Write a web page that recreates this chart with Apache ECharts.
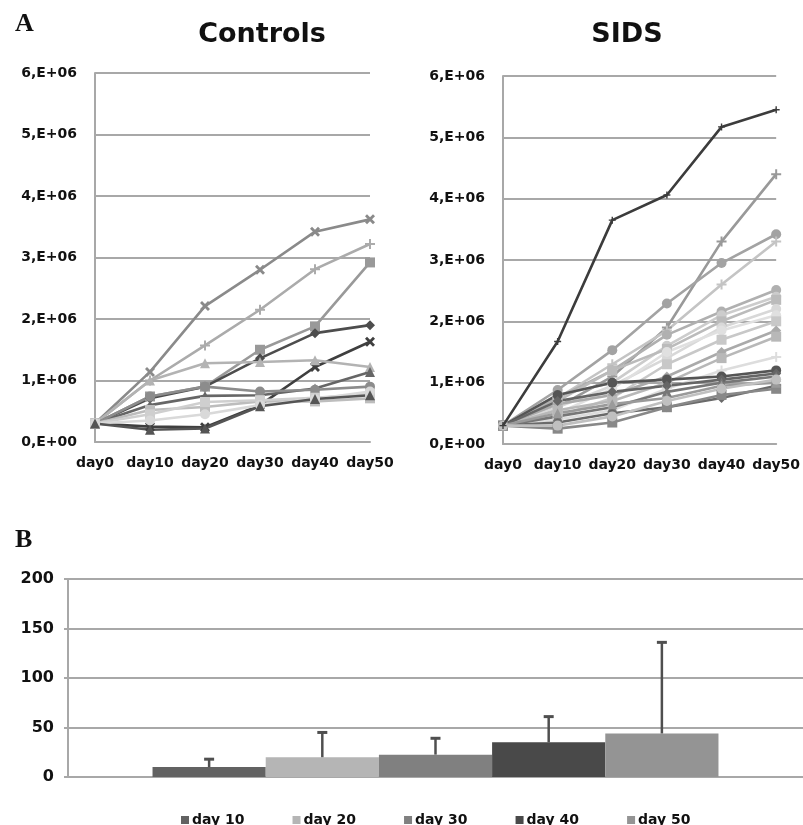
<!DOCTYPE html>
<html>
<head>
<meta charset="UTF-8">
<script src="https://cdn.jsdelivr.net/npm/echarts@6/dist/echarts.min.js"></script>
<style>
    body{margin:0;background:#fff;}
</style>
</head>
<body>
<div id="main" style="width:803px;height:825px;"></div>
<script type="text/javascript">
    // values in millions (x E+06)
    var days = ['day0', 'day10', 'day20', 'day30', 'day40', 'day50'];
    var yTicks = [0, 1, 2, 3, 4, 5, 6];

    var controls = [
        [0.3, 1.14, 2.21, 2.8, 3.42, 3.62],
        [0.3, 1.0, 1.57, 2.15, 2.81, 3.22],
        [0.3, 0.74, 0.9, 1.5, 1.88, 2.92],
        [0.3, 0.71, 0.9, 1.36, 1.77, 1.9],
        [0.3, 0.25, 0.24, 0.6, 1.22, 1.63],
        [0.3, 1.0, 1.28, 1.3, 1.33, 1.22],
        [0.3, 0.6, 0.75, 0.76, 0.87, 1.14],
        [0.3, 0.74, 0.9, 0.82, 0.85, 0.9],
        [0.3, 0.52, 0.57, 0.66, 0.66, 0.71],
        [0.3, 0.45, 0.65, 0.68, 0.72, 0.78],
        [0.3, 0.35, 0.45, 0.6, 0.7, 0.82],
        [0.3, 0.2, 0.22, 0.58, 0.7, 0.76]
    ];
    var controlColors = ['#8a8a8a', '#ababab', '#999999', '#4d4d4d', '#3f3f3f', '#b3b3b3',
        '#666666', '#8c8c8c', '#bdbdbd', '#cfcfcf', '#d9d9d9', '#555555'];
    var controlSymbols = ['x', 'plus', 'rect', 'diamond', 'x', 'triangle',
        'triangle', 'circle', 'rect', 'rect', 'circle', 'triangle'];

    var sids = [
        [0.3, 1.67, 3.65, 4.06, 5.17, 5.45],
        [0.3, 0.6, 1.1, 1.9, 3.3, 4.4],
        [0.3, 0.88, 1.53, 2.29, 2.95, 3.42],
        [0.3, 0.75, 1.3, 1.85, 2.6, 3.3],
        [0.3, 0.75, 1.2, 1.78, 2.16, 2.51],
        [0.3, 0.8, 1.0, 1.6, 2.1, 2.4],
        [0.3, 0.7, 1.2, 1.55, 2.0, 2.35],
        [0.3, 0.6, 0.95, 1.4, 1.9, 2.2],
        [0.3, 0.5, 0.9, 1.5, 1.85, 2.1],
        [0.3, 0.45, 0.75, 1.3, 1.7, 2.0],
        [0.3, 0.65, 0.8, 1.1, 1.5, 1.85],
        [0.3, 0.55, 0.7, 1.0, 1.4, 1.75],
        [0.3, 0.4, 0.55, 0.9, 1.2, 1.42],
        [0.3, 0.8, 1.0, 1.05, 1.1, 1.2],
        [0.3, 0.7, 0.85, 0.95, 1.05, 1.15],
        [0.3, 0.45, 0.6, 0.85, 1.0, 1.1],
        [0.3, 0.35, 0.5, 0.6, 0.75, 0.95],
        [0.3, 0.25, 0.35, 0.6, 0.8, 0.9],
        [0.3, 0.5, 0.65, 0.75, 0.95, 1.0],
        [0.3, 0.3, 0.45, 0.7, 0.9, 1.05]
    ];
    var sidsColors = ['#3c3c3c', '#999999', '#a3a3a3', '#c4c4c4', '#b0b0b0', '#cccccc',
        '#bbbbbb', '#d8d8d8', '#e0e0e0', '#c8c8c8', '#aaaaaa', '#b8b8b8', '#dddddd',
        '#555555', '#666666', '#777777', '#6a6a6a', '#888888', '#9a9a9a', '#c0c0c0'];
    var sidsSymbols = ['plus', 'plus', 'circle', 'plus', 'circle', 'circle', 'rect',
        'circle', 'circle', 'rect', 'diamond', 'rect', 'plus', 'circle', 'diamond',
        'triangle', 'diamond', 'rect', 'triangle', 'circle'];

    // panel B
    var barDays = ['day 10', 'day 20', 'day 30', 'day 40', 'day 50'];
    var barMean = [10, 20, 22.6, 35, 44];
    var barSd = [8, 25, 16.5, 26, 92];
    var barTicks = [0, 50, 100, 150, 200];
    var barColors = ['#626262', '#b5b5b5', '#808080', '#494949', '#949494'];

    var symPaths = {
        x: 'path://M2,0L5,3L8,0L10,2L7,5L10,8L8,10L5,7L2,10L0,8L3,5L0,2Z',
        plus: 'path://M4,0H6V4H10V6H6V10H4V6H0V4H4Z'
    };
    function sym(s) {
        return symPaths[s] || s;
    }

    var lblFont = 'DejaVu Sans';
    var gridColor = '#a8a8a8';

    function yFmt(v) {
        return v + ',E+0' + (v === 0 ? '0' : '6');
    }

    var chart = echarts.init(document.getElementById('main'));

    var series = [];
    controls.forEach(function (d, i) {
        series.push({
            type: 'line', xAxisIndex: 0, yAxisIndex: 0, data: d,
            symbol: sym(controlSymbols[i]), symbolSize: 10,
            lineStyle: {color: controlColors[i], width: 2.6},
            itemStyle: {color: controlColors[i]},
            animation: false
        });
    });
    sids.forEach(function (d, i) {
        series.push({
            type: 'line', xAxisIndex: 1, yAxisIndex: 1, data: d,
            symbol: sym(sidsSymbols[i]), symbolSize: i === 0 ? 7 : 10,
            lineStyle: {color: sidsColors[i], width: 2.6},
            itemStyle: {color: sidsColors[i]},
            z: i === 0 ? 5 : 2,
            animation: false
        });
    });
    barDays.forEach(function (name, i) {
        series.push({
            type: 'bar', name: name, xAxisIndex: 2, yAxisIndex: 2,
            data: [barMean[i]], barGap: 0, barCategoryGap: '23%',
            itemStyle: {color: barColors[i]},
            animation: false
        });
    });
    // error bars (upper only)
    series.push({
        type: 'custom', xAxisIndex: 2, yAxisIndex: 2, z: 10, animation: false,
        data: barMean.map(function (m, i) { return [0, m + barSd[i], m, i]; }),
        encode: {x: 0, y: 1},
        renderItem: function (params, api) {
            var k = api.value(3);
            var top = api.coord([0, api.value(1)]);
            var bot = api.coord([0, api.value(2)]);
            var band = api.size([1, 0])[0];
            var bw = band * (1 - 0.23) / barDays.length;
            var x = top[0] + (k - (barDays.length - 1) / 2) * bw;
            var st = {stroke: '#4f4f4f', lineWidth: 2.5};
            return {
                type: 'group',
                children: [
                    {type: 'line', shape: {x1: x, y1: bot[1], x2: x, y2: top[1]}, style: st},
                    {type: 'line', shape: {x1: x - 5, y1: top[1], x2: x + 5, y2: top[1]}, style: {stroke: '#4f4f4f', lineWidth: 3}}
                ]
            };
        }
    });

    function lineY(idx) {
        return {
            type: 'value', gridIndex: idx, min: yTicks[0], max: yTicks[yTicks.length - 1], interval: 1,
            axisLine: {show: true, lineStyle: {color: gridColor, width: 2}},
            axisTick: {show: false},
            splitLine: {lineStyle: {color: gridColor, width: 2}},
            axisLabel: {formatter: yFmt, color: '#111', fontFamily: lblFont, fontWeight: 'bold', fontSize: 14, margin: 18}
        };
    }
    function lineX(idx) {
        return {
            type: 'category', gridIndex: idx, data: days, boundaryGap: false,
            axisLine: {lineStyle: {color: gridColor, width: 2}},
            axisTick: {show: false},
            axisLabel: {color: '#111', fontFamily: lblFont, fontWeight: 'bold', fontSize: 14, margin: 14, interval: 0}
        };
    }

    var option = {
        backgroundColor: '#fff',
        title: [
            {text: 'A', left: 10, top: 6, textStyle: {fontFamily: 'Liberation Serif', fontWeight: 'bold', fontSize: 26, color: '#111'}},
            {text: 'Controls', left: 257, top: 16, textAlign: 'center', textStyle: {fontFamily: lblFont, fontWeight: 'bold', fontSize: 27, color: '#111'}},
            {text: 'SIDS', left: 622, top: 16, textAlign: 'center', textStyle: {fontFamily: lblFont, fontWeight: 'bold', fontSize: 27, color: '#111'}},
            {text: 'B', left: 10, top: 522, textStyle: {fontFamily: 'Liberation Serif', fontWeight: 'bold', fontSize: 26, color: '#111'}}
        ],
        legend: {
            data: barDays, left: 176, top: 808, itemGap: 48, icon: 'rect', itemWidth: 8, itemHeight: 8,
            textStyle: {fontFamily: lblFont, fontWeight: 'bold', fontSize: 14, color: '#111', padding: [0, 0, 0, -2]}
        },
        grid: [
            {left: 95, top: 73, width: 275, height: 369},
            {left: 503, top: 76, width: 275, height: 368},
            {left: 68, top: 579, right: 0, height: 198}
        ],
        xAxis: [
            lineX(0),
            lineX(1),
            {
                type: 'category', gridIndex: 2, data: [''],
                axisLine: {lineStyle: {color: gridColor, width: 2}},
                axisTick: {show: false}, axisLabel: {show: false}
            }
        ],
        yAxis: [
            lineY(0),
            lineY(1),
            {
                type: 'value', gridIndex: 2, min: barTicks[0], max: barTicks[barTicks.length - 1], interval: 50,
                axisLine: {show: true, lineStyle: {color: gridColor, width: 2}},
                axisTick: {show: true, length: 4, lineStyle: {color: gridColor, width: 2}},
                splitLine: {lineStyle: {color: gridColor, width: 2}},
                axisLabel: {color: '#111', fontFamily: lblFont, fontWeight: 'bold', fontSize: 16, margin: 14}
            }
        ],
        series: series
    };

    chart.setOption(option);
</script>
</body>
</html>
